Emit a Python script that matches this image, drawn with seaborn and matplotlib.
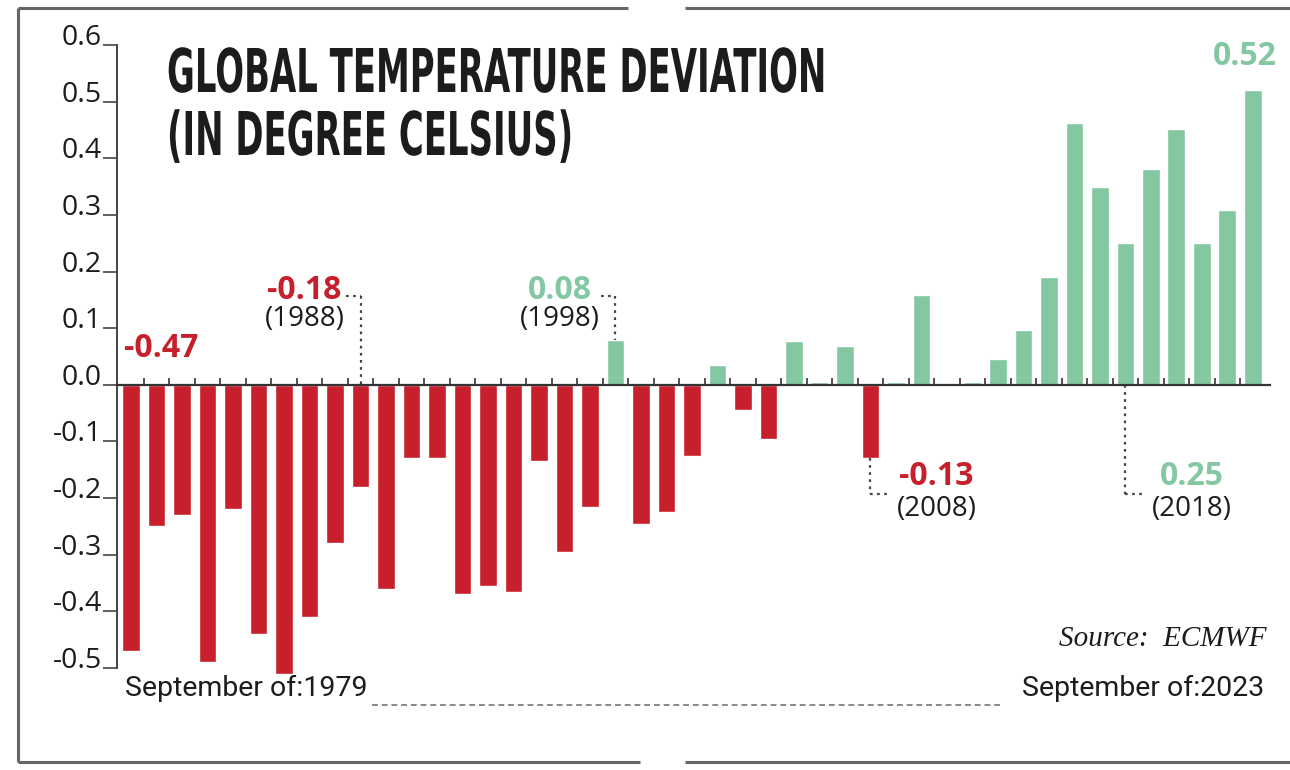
#!/usr/bin/env python3
"""
Global temperature deviation, September of each year (ECMWF)
"""

import numpy as np
import pandas as pd
import matplotlib
matplotlib.use("Agg")
import matplotlib.pyplot as plt
from matplotlib.lines import Line2D
from matplotlib.patheffects import AbstractPathEffect
from matplotlib.transforms import Affine2D
import seaborn as sns

# Data
years = list(range(1979, 2024))
deviation = [
    -0.47, -0.25, -0.23, -0.49, -0.22, -0.44, -0.51, -0.41, -0.28, -0.18,
    -0.36, -0.13, -0.13, -0.37, -0.355, -0.365, -0.135, -0.295, -0.215, 0.08,
    -0.245, -0.225, -0.125, 0.035, -0.045, -0.095, 0.078, 0.005, 0.068, -0.13,
    0.005, 0.158, 0.0, 0.005, 0.046, 0.096, 0.19, 0.463, 0.349, 0.25,
    0.381, 0.452, 0.25, 0.309, 0.52,
]
ytick_values = [-0.5, -0.4, -0.3, -0.2, -0.1, 0.0, 0.1, 0.2, 0.3, 0.4, 0.5, 0.6]
ytick_labels = ['-0.5', '-0.4', '-0.3', '-0.2', '-0.1', '0.0',
                '0.1', '0.2', '0.3', '0.4', '0.5', '0.6']

# highlighted years: (year, value label)
callouts = [(1988, '-0.18'), (1998, '0.08'), (2008, '-0.13'), (2018, '0.25')]

RED = '#c71f2b'
GREEN = '#84c8a2'
INK = '#1c1c1c'

W, H = 1290, 770


def px(x, y):
    """figure pixel (from top-left) -> figure fraction"""
    return x / W, 1 - y / H


class Stretch(AbstractPathEffect):
    """make glyphs taller around the baseline y0 (display px) - no condensed font here"""

    def __init__(self, y0, sy):
        super().__init__()
        self.y0 = y0
        self.sy = sy

    def draw_path(self, renderer, gc, tpath, affine, rgbFace=None):
        st = Affine2D().translate(0, -self.y0).scale(1, self.sy).translate(0, self.y0)
        renderer.draw_path(gc, tpath, affine + st, rgbFace)


def main():
    sns.set_style('white')
    plt.rcParams['font.family'] = ['Open Sans', 'DejaVu Sans']

    df = pd.DataFrame({'year': [str(y) for y in years], 'value': deviation})
    df['sign'] = np.where(df['value'] < 0, 'neg', 'pos')

    fig = plt.figure(figsize=(W / 100, H / 100), dpi=100)
    fig.patch.set_facecolor('white')

    # axes placed so that 0.6 -> 45px and -0.5 -> 668px
    ylo, yhi = -0.53, 0.62
    ppu = (668 - 45) / 1.1
    top_px = 45 - (yhi - 0.6) * ppu
    bot_px = 668 + (-0.5 - ylo) * ppu
    left_px, right_px = 117, 1270
    l, b = px(left_px, bot_px)
    ax = fig.add_axes([l, b, (right_px - left_px) / W, (bot_px - top_px) / H])

    sns.barplot(data=df, x='year', y='value', hue='sign', order=df['year'],
                palette={'neg': RED, 'pos': GREEN}, dodge=False, width=0.7,
                saturation=1, legend=False, ax=ax)

    ax.set_ylim(ylo, yhi)
    ax.set_xlim(-0.55, 44.67)
    ax.set_xlabel('')
    ax.set_ylabel('')

    # spines
    for s in ['top', 'right']:
        ax.spines[s].set_visible(False)
    ax.spines['left'].set_bounds(-0.5, 0.6)
    ax.spines['left'].set_color('#444444')
    ax.spines['left'].set_linewidth(1.4)
    ax.spines['bottom'].set_position(('data', 0))
    ax.spines['bottom'].set_color('#333333')
    ax.spines['bottom'].set_linewidth(1.6)
    ax.spines['bottom'].set_zorder(5)

    # small ticks between bars on the zero line
    ax.set_xticks(np.arange(len(years) - 1) + 0.5)
    ax.set_xticklabels([])
    ax.tick_params(axis='x', direction='in', length=5, width=1.2, color='#333333', bottom=True)

    ax.set_yticks(ytick_values)
    ax.set_yticklabels(ytick_labels, va='baseline')
    ax.tick_params(axis='y', direction='out', length=10, width=1.2, color='#444444',
                   left=True, pad=1, labelsize=20.5, labelcolor=INK)

    # title: bold, tall and narrow -> fit the width, then stretch upward
    tx0 = 167
    title_lines = [(92, 'GLOBAL TEMPERATURE DEVIATION'), (155, '(IN DEGREE CELSIUS)')]
    title_kw = dict(ha='left', va='baseline', fontweight='bold', color=INK,
                    family=['DejaVu Sans'])
    probe = fig.text(*px(tx0, 92), title_lines[0][1], fontsize=43, **title_kw)
    fig.canvas.draw()
    fs = 43 * 660 / probe.get_window_extent().width
    probe.remove()
    cap_px = 0.729 * fs * 100 / 72
    sy = 44 / cap_px
    for ypx, line in title_lines:
        fig.text(*px(tx0, ypx), line, fontsize=fs, **title_kw,
                 path_effects=[Stretch(H - ypx, sy)])

    # first / last value labels
    ax.text(-0.27, 0.065, '-0.47', ha='left', va='center', fontsize=23,
            fontweight='bold', color=RED)
    ax.text(43.7, 0.579, '0.52', ha='center', va='center', fontsize=23,
            fontweight='bold', color=GREEN)

    # callouts with dotted leaders
    dot = dict(color='#444444', lw=1.6, linestyle=(0, (1.2, 2.0)))
    idx = {y: i for i, y in enumerate(years)}
    for yr, lab in callouts:
        i = idx[yr]
        v = deviation[i]
        col = RED if v < 0 else GREEN
        if yr < 2000:
            tx, ty = i - 2.2, 0.166
            ax.text(tx, ty, lab, ha='center', va='center', fontsize=23,
                    fontweight='bold', color=col)
            ax.text(tx, ty - 0.05, f'({yr})', ha='center', va='center',
                    fontsize=20, color=INK)
            ax.plot([i - 0.55, i], [0.157, 0.157], **dot)
            ax.plot([i, i], [0.157, max(v, 0)], **dot)
        else:
            tx, ty = i + 2.6, -0.162
            ax.text(tx, ty, lab, ha='center', va='center', fontsize=23,
                    fontweight='bold', color=col)
            ax.text(tx, ty - 0.057, f'({yr})', ha='center', va='center',
                    fontsize=20, color=INK)
            ax.plot([i, i], [min(v, 0), -0.192], **dot)
            ax.plot([i, i + 0.8], [-0.192, -0.192], **dot)

    # bottom range labels
    ax.text(-0.25, -0.537, 'September of:1979', ha='left', va='center', fontsize=20.5,
            color=INK, family=['Roboto', 'DejaVu Sans'], clip_on=False)
    ax.text(44.45, -0.537, 'September of:2023', ha='right', va='center', fontsize=20.5,
            color=INK, family=['Roboto', 'DejaVu Sans'], clip_on=False)
    ax.plot([9.45, 34.1], [-0.565, -0.565], color='#888888', lw=1.4,
            linestyle=(0, (3, 2)), clip_on=False)
    ax.text(44.55, -0.448, 'Source:  ECMWF', ha='right', va='center', fontsize=21,
            style='italic', color=INK, family=['Liberation Serif', 'DejaVu Serif'])

    # frame around the graphic
    frame = dict(color='#666666', lw=2.2, solid_capstyle='butt')
    segs = [
        [(18, 8), (18, 762)],
        [(18, 8), (628, 8)], [(685, 8), (1290, 8)],
        [(18, 762), (640, 762)], [(685, 762), (1290, 762)],
    ]
    for (x0, y0), (x1, y1) in segs:
        a0, b0 = px(x0, y0)
        a1, b1 = px(x1, y1)
        fig.add_artist(Line2D([a0, a1], [b0, b1], transform=fig.transFigure, **frame))

    fig.savefig('out.png', dpi=100)
    plt.close(fig)


if __name__ == '__main__':
    main()
